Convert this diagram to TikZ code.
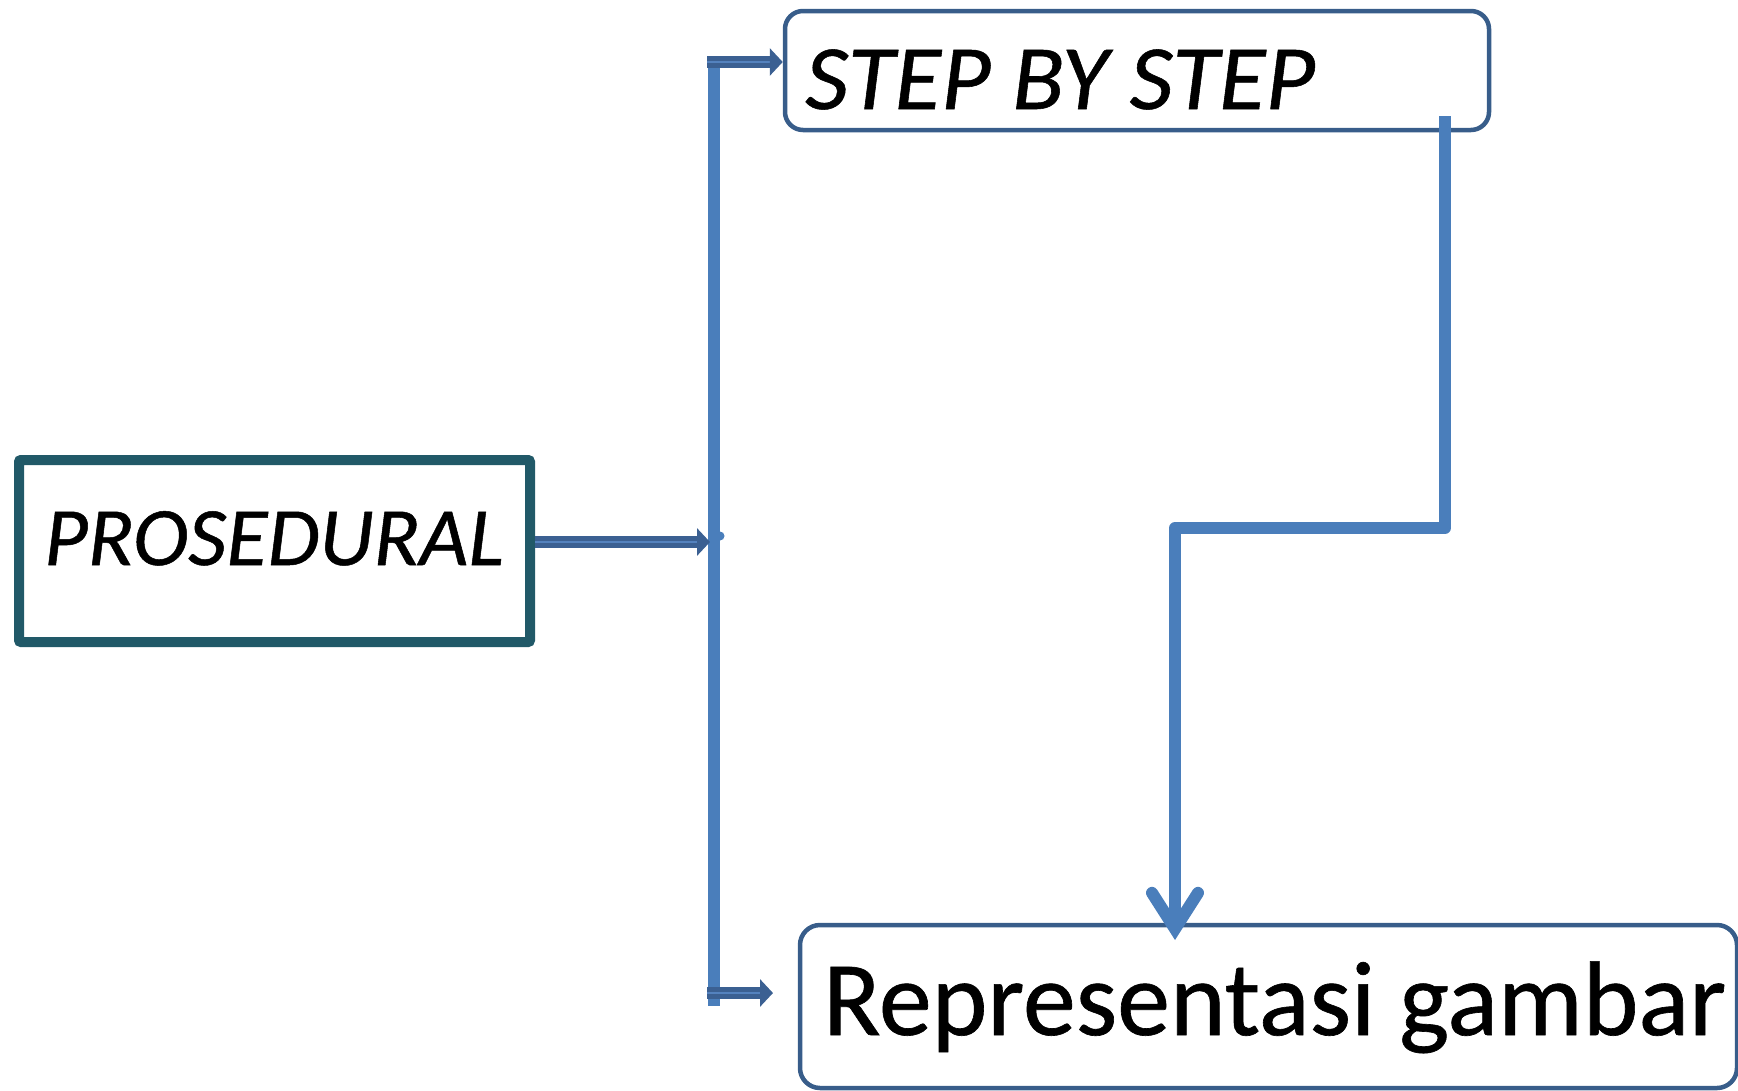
\documentclass[tikz,border=0pt]{standalone}
\usepackage{fontspec}
\setmainfont{Carlito}[FakeBold=0.6]
\newfontfamily\stepfont{Carlito}[FakeStretch=1.04,FakeBold=0.6]
\newfontfamily\prosfont{Carlito}[FakeStretch=1.017,FakeBold=0.6]
\usetikzlibrary{arrows.meta}
\definecolor{prosborder}{RGB}{33,89,104}
\definecolor{boxborder}{RGB}{56,93,138}
\definecolor{connector}{RGB}{74,126,187}
\definecolor{arrowouter}{RGB}{59,96,146}
\definecolor{arrowinner}{RGB}{84,130,190}
\tikzset{
  prosbox/.style={draw=prosborder, line width=10pt, rounded corners=2pt, inner sep=0pt, minimum width=511pt, minimum height=182pt},
  roundbox/.style={draw=boxborder, line width=4.5pt, inner sep=0pt},
  label/.style={anchor=base west, inner sep=0pt, text=black},
  dblarrow/.style={draw=arrowouter, line width=5pt, double=arrowinner, double distance=2pt, -{Triangle[length=13pt,width=27pt]}},
  trunk/.style={draw=connector, line width=12pt},
  elbow/.style={draw=connector, line width=12pt, line join=round, -{Straight Barb[length=36pt,width=46pt,line cap=round]}}
}
\begin{document}
\begin{tikzpicture}[x=1pt,y=-1pt]
\useasboundingbox (0,0) rectangle (1738,1090);
% boxes
\node[prosbox] (pros) at (274.5,551) {};
\node[roundbox, rounded corners=18pt, minimum width=704pt, minimum height=119pt] (step) at (1137,70.5) {};
\node[roundbox, rounded corners=20pt, minimum width=937pt, minimum height=163pt] (rep) at (1268.5,1006.5) {};
% texts
\node[label, font=\prosfont\fontsize{83}{90}\selectfont\itshape] (prostxt) at (44,565) {PROSEDURAL};
\node[label, font=\stepfont\fontsize{92}{100}\selectfont\itshape] (steptxt) at (805,109) {STEP BY STEP};
\node[label, font=\fontsize{106}{115}\selectfont] (reptxt) at (823,1035) {Representasi gambar};
% junction coordinates
\coordinate (ttop) at (714,66);
\coordinate (tbot) at (714,1006);
\coordinate (j1) at (707,62);
\coordinate (j2) at (710,542);
\coordinate (j3) at (707,993);
\coordinate (e3) at (773,993);
\coordinate (r0) at (1445,116);
\coordinate (r1) at (1445,528);
\coordinate (r2) at (1175,528);
\coordinate (r3) at (1175,940);
% trunk line
\draw[trunk] (ttop) -- (tbot);
\fill[connector] (720,536) circle (4.5pt);
% arrows
\draw[dblarrow] (j1) -- (step.west |- j1);
\draw[dblarrow] (pros.east |- j2) -- (j2);
\draw[dblarrow] (j3) -- (e3);
% right elbow connector
\draw[elbow] (r0) -- (r1) -- (r2) -- (r3);
\end{tikzpicture}
\end{document}
